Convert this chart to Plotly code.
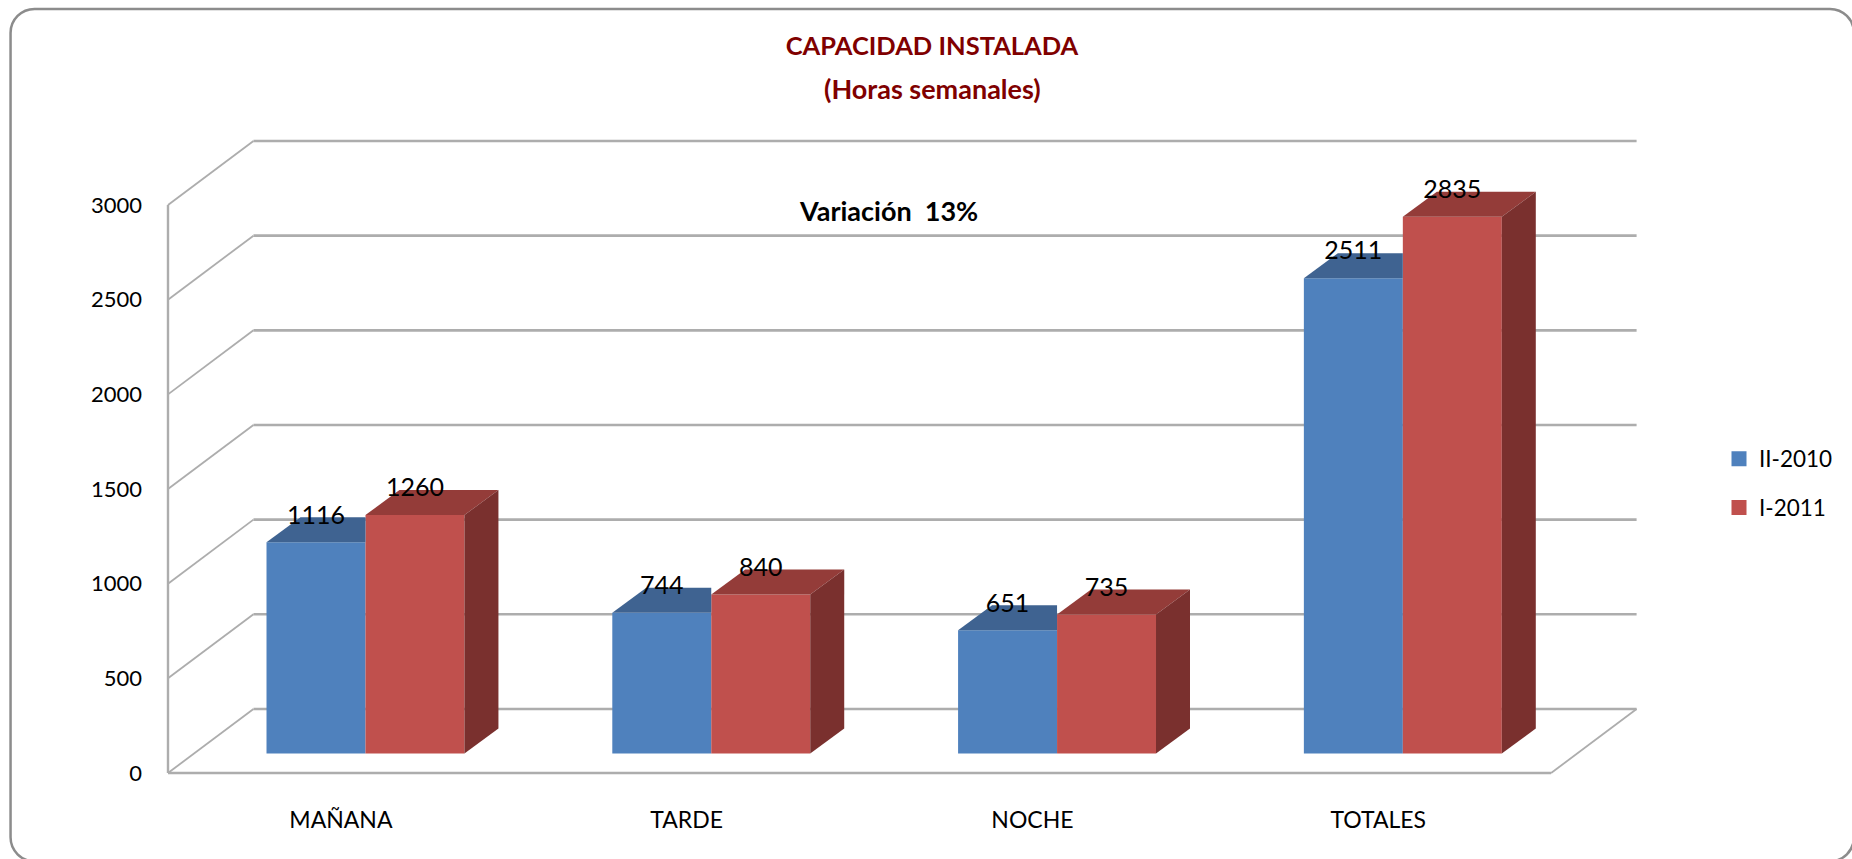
import plotly.graph_objects as go

categories = ["MAÑANA", "TARDE", "NOCHE", "TOTALES"]
series_names = ["II-2010", "I-2011"]
values_2010 = [1116, 744, 651, 2511]
values_2011 = [1260, 840, 735, 2835]
y_ticks = [0, 500, 1000, 1500, 2000, 2500, 3000]

W, H = 1852, 859
AXIS_L, AXIS_B = 167.5, 772.7      # where category edge -0.5 and value 0 fall
PAD = 6.0                          # room so the wall lines are not clipped
L, R, T, B = AXIS_L - PAD, 1645.0, 130.0, AXIS_B + PAD
PX_PER_UNIT = 567.7 / 3000
PX_PER_CAT = 345.9
FONT = "Lato"
BLUE, RED = "#4F81BD", "#C0504D"
BLUE_TOP, RED_TOP, RED_SIDE = "#3F6391", "#943C39", "#7A302E"
GRID = "#ADADAD"

def cat_px(px):
    return px / PX_PER_CAT
def val_px(px):
    return px / PX_PER_UNIT

X0 = -0.5
WALL_X = cat_px(85.5)
WALL_Y = val_px(64.0)
FLOOR_END = 3.5
BAR_BASE = val_px(19.4)
BAR_DX = cat_px(34)
BAR_DY = val_px(25)
BAR_W = cat_px(99)
GROUP_SHIFT = cat_px(24.6)
LABEL_UP = val_px(25)

def px2x(p): return (p - L) / (R - L)
def px2y(p): return 1 - (p - T) / (B - T)

fig = go.Figure()
shapes = []

def line(x0, y0, x1, y1, width=2.0, color=GRID):
    shapes.append(dict(type="line", xref="x", yref="y", x0=x0, y0=y0, x1=x1, y1=y1,
                       layer="below", line=dict(color=color, width=width)))

for v in y_ticks:
    line(X0, v, X0 + WALL_X, v + WALL_Y, 1.8)
    line(X0 + WALL_X, v + WALL_Y, FLOOR_END + WALL_X, v + WALL_Y, 2.6)
line(X0, 0, X0, 3000, 2.4)
line(X0, 0, FLOOR_END, 0, 2.6)
line(FLOOR_END, 0, FLOOR_END + WALL_X, WALL_Y, 1.8)

xs_blue = [i + GROUP_SHIFT - BAR_W / 2 for i in range(len(categories))]
xs_red = [i + GROUP_SHIFT + BAR_W / 2 for i in range(len(categories))]

fig.add_trace(go.Bar(x=xs_blue, y=values_2010, base=BAR_BASE, width=BAR_W, name=series_names[0],
                     marker=dict(color=BLUE, line=dict(width=0)), showlegend=False))
fig.add_trace(go.Bar(x=xs_red, y=values_2011, base=BAR_BASE, width=BAR_W, name=series_names[1],
                     marker=dict(color=RED, line=dict(width=0)), showlegend=False))

def poly(xs, ys, color):
    fig.add_trace(go.Scatter(x=xs, y=ys, mode="lines", fill="toself", fillcolor=color,
                             line=dict(width=0, color=color), showlegend=False, hoverinfo="skip"))

for xb, xr, vb, vr in zip(xs_blue, xs_red, values_2010, values_2011):
    tb = vb + BAR_BASE
    tr = vr + BAR_BASE
    left = xb - BAR_W / 2
    mid = xb + BAR_W / 2
    right = xr + BAR_W / 2
    poly([left, left + BAR_DX, mid, mid, left], [tb, tb + BAR_DY, tb + BAR_DY, tb, tb], BLUE_TOP)
    poly([mid, mid + BAR_DX, right + BAR_DX, right, mid], [tr, tr + BAR_DY, tr + BAR_DY, tr, tr], RED_TOP)
    poly([right, right + BAR_DX, right + BAR_DX, right, right],
         [BAR_BASE, BAR_BASE + BAR_DY, tr + BAR_DY, tr, BAR_BASE], RED_SIDE)

for xs, vals in ((xs_blue, values_2010), (xs_red, values_2011)):
    fig.add_trace(go.Scatter(x=xs, y=[v + BAR_BASE + LABEL_UP for v in vals], mode="text",
                             text=[str(v) for v in vals], textposition="middle center",
                             textfont=dict(family=FONT, size=25, color="#000000"),
                             showlegend=False, hoverinfo="skip"))

for name, color in zip(series_names, (BLUE, RED)):
    fig.add_trace(go.Scatter(x=[None], y=[None], mode="markers", name=name, legendgroup=name,
                             marker=dict(symbol="square", size=15, color=color)))

# outer rounded frame, running slightly past the right and bottom of the page
fx0, fy0, fx1, fy1, r = 10, 9, 1854, 861, 24
k = r * 0.448
def pt(x, y):
    return f"{px2x(x)},{px2y(y)}"
path = (f"M{pt(fx0 + r, fy0)} L{pt(fx1 - r, fy0)} "
        f"C{pt(fx1 - k, fy0)} {pt(fx1, fy0 + k)} {pt(fx1, fy0 + r)} L{pt(fx1, fy1 - r)} "
        f"C{pt(fx1, fy1 - k)} {pt(fx1 - k, fy1)} {pt(fx1 - r, fy1)} L{pt(fx0 + r, fy1)} "
        f"C{pt(fx0 + k, fy1)} {pt(fx0, fy1 - k)} {pt(fx0, fy1 - r)} L{pt(fx0, fy0 + r)} "
        f"C{pt(fx0, fy0 + k)} {pt(fx0 + k, fy0)} {pt(fx0 + r, fy0)} Z")
shapes.append(dict(type="path", xref="paper", yref="paper", path=path, layer="below",
                   line=dict(color="#8C8C8C", width=2.5), fillcolor="rgba(0,0,0,0)"))

fig.update_layout(
    width=W, height=H, autosize=False,
    paper_bgcolor="white", plot_bgcolor="rgba(0,0,0,0)",
    margin=dict(l=L, r=W - R, t=T, b=H - B, autoexpand=False, pad=0),
    barmode="overlay", shapes=shapes,
    font=dict(family=FONT, color="#000000"),
    title=dict(text="<b>CAPACIDAD INSTALADA</b>", x=932 / W, xanchor="center", xref="container",
               y=1 - 46 / H, yanchor="middle", yref="container",
               font=dict(family=FONT, size=25.5, color="#7F0000")),
    xaxis=dict(range=[X0 - cat_px(PAD), X0 + cat_px(R - AXIS_L)], tickmode="array",
               tickvals=list(range(len(categories))), ticktext=categories,
               showgrid=False, zeroline=False, showline=False, ticks="outside", ticklen=20,
               tickcolor="rgba(0,0,0,0)", tickfont=dict(family=FONT, size=23, color="#000000")),
    yaxis=dict(range=[-val_px(PAD), (AXIS_B - T) / PX_PER_UNIT], tickmode="array", tickvals=y_ticks,
               showgrid=False, zeroline=False, showline=False, ticks="outside", ticklen=14.5,
               tickcolor="rgba(0,0,0,0)", tickfont=dict(family=FONT, size=22, color="#000000")),
    legend=dict(xref="container", yref="container", x=1719 / W, y=1 - 437.5 / H, xanchor="left", yanchor="top",
                tracegroupgap=16.5, font=dict(family=FONT, size=22.5, color="#000000"),
                bgcolor="rgba(0,0,0,0)", itemsizing="trace"),
    annotations=[
        dict(text="<b>(Horas semanales)</b>", xref="paper", yref="paper", x=px2x(932),
             y=px2y(89), showarrow=False, xanchor="center", yanchor="middle",
             font=dict(family=FONT, size=27, color="#7F0000")),
        dict(text="<b>Variación  13%</b>", xref="paper", yref="paper", x=px2x(888),
             y=px2y(210), showarrow=False, xanchor="center", yanchor="middle",
             font=dict(family=FONT, size=27, color="#000000")),
    ],
    showlegend=True,
)
fig.write_html("out.html", post_script="document.body.style.margin='0';",
               config={"displayModeBar": False})
